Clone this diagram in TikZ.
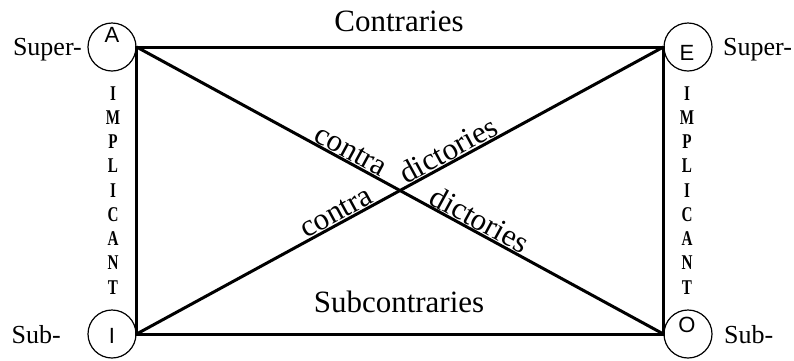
\documentclass[tikz,border=0pt]{standalone}
\usepackage{fontspec}
\setmainfont{Liberation Serif}
\newfontfamily\lsans{Liberation Sans}
\begin{document}
\begin{tikzpicture}[x=1pt,y=-1pt,
 edge/.style={line width=3pt},
 vtx/.style={circle, draw, line width=1.2pt, minimum size=48pt, inner sep=0pt},
 vlet/.style={font=\lsans\fontsize{22}{22}\selectfont, anchor=base, inner sep=0pt},
 side/.style={font=\fontsize{26}{26}\selectfont, inner sep=0pt},
 big/.style={font=\fontsize{31}{31}\selectfont, inner sep=0pt, anchor=base},
 diag/.style={font=\fontsize{31}{31}\selectfont, sloped, above, inner sep=0.5pt},
 imp/.style={font=\bfseries\fontsize{21}{21}\selectfont, anchor=base, inner sep=0pt}]
\useasboundingbox (0,0) rectangle (794,360);
% vertices
\node[vtx] (A) at (112,47) {};
\node[vtx] (E) at (688,47) {};
\node[vtx] (I) at (112,334) {};
\node[vtx] (O) at (688,334) {};
\node[vlet] (la) at (112,42) {A};
\node[vlet] (le) at (687,60) {E};
\node[vlet] (li) at (112,343) {I};
\node[vlet] (lo) at (687,332) {O};
% side labels
\node[side, anchor=base east] (supl) at (82,55) {Super-};
\node[side, anchor=base west] (supr) at (723,55) {Super-};
\node[side, anchor=base east] (subl) at (61,343) {Sub-};
\node[side, anchor=base west] (subr) at (724,343) {Sub-};
% edges
\draw[edge] (A.east) -- (E.west) -- (O.west) -- (I.east) -- cycle;
\draw[edge] (A.east) -- node[diag,pos=0.397]{contra} node[diag,pos=0.64]{dictories} (O.west);
\draw[edge] (I.east) -- node[diag,pos=0.389]{contra} node[diag,pos=0.603]{dictories} (E.west);
% titles
\node[big] (con) at (399,31) {Contraries};
\node[big] (sub) at (399,312) {Subcontraries};
% IMPLICANT columns
\foreach \ch [count=\i] in {I,M,P,L,I,C,A,N,T} {
  \node[imp] (l\i) at (113,{100+(\i-1)*24.25}) {\scalebox{0.72}[1]{\ch}};
  \node[imp] (r\i) at (687,{100+(\i-1)*24.25}) {\scalebox{0.72}[1]{\ch}};
}
\end{tikzpicture}
\end{document}
